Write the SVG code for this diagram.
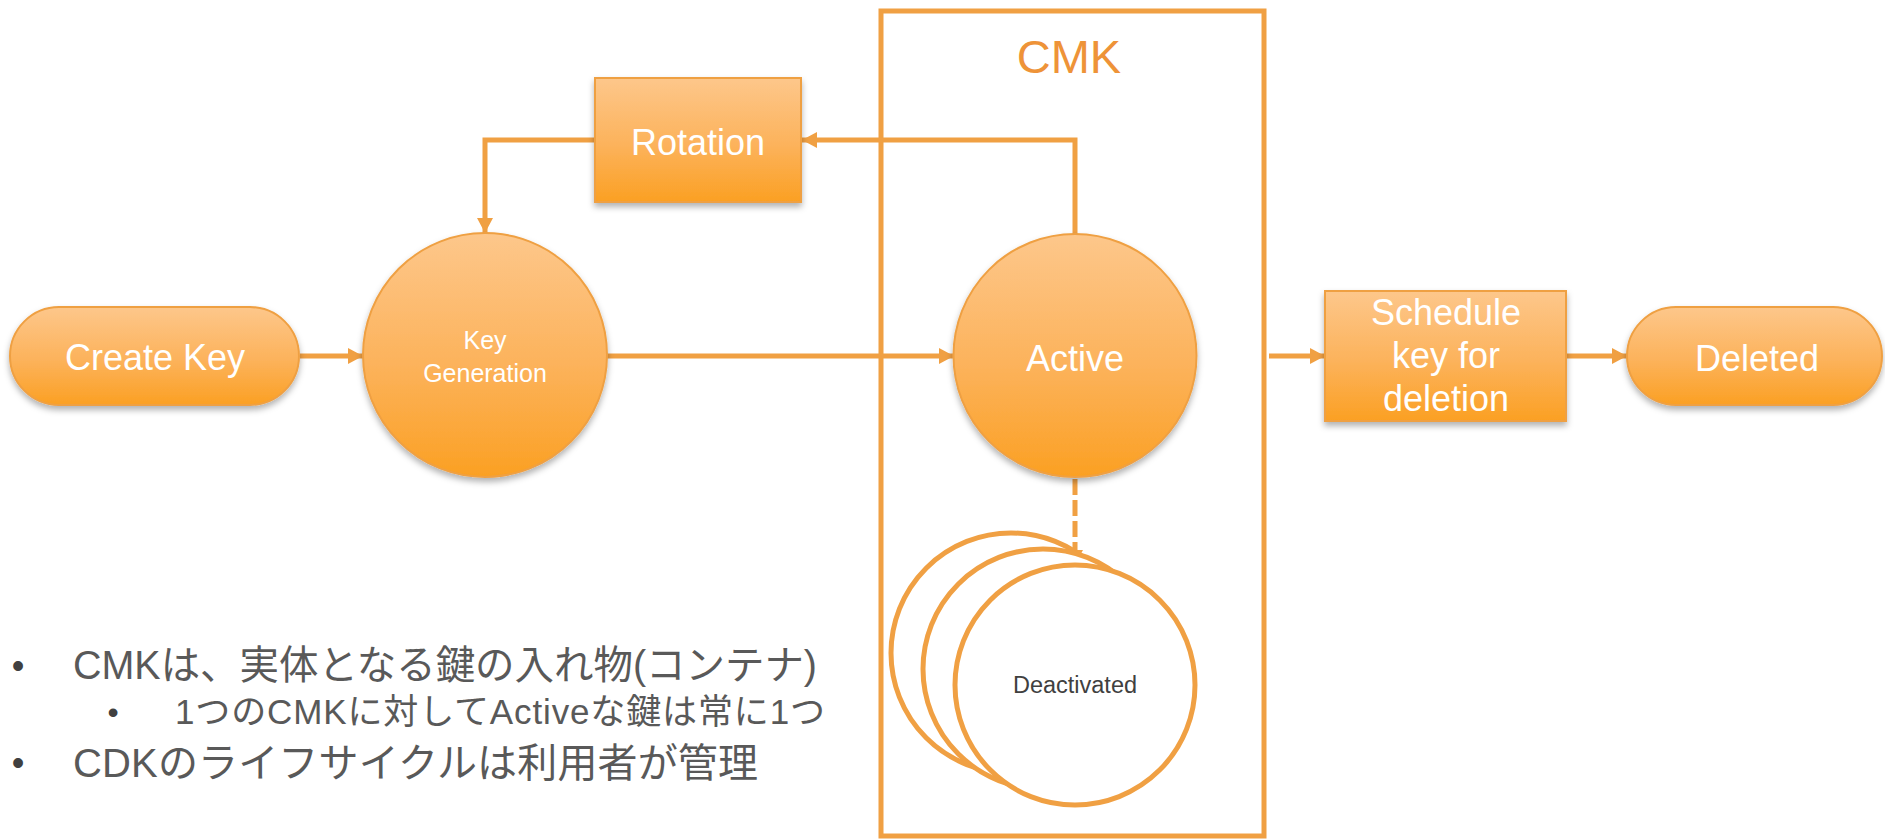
<svg xmlns="http://www.w3.org/2000/svg" width="1885" height="840" viewBox="0 0 1885 840">
  <defs>
    <linearGradient id="nodeFill" x1="0" y1="0" x2="0" y2="1">
      <stop offset="0" stop-color="#FDC78B"/>
      <stop offset="0.55" stop-color="#FCB25A"/>
      <stop offset="1" stop-color="#FBA023"/>
    </linearGradient>
    <filter id="shadow" x="-20%" y="-20%" width="140%" height="140%">
      <feDropShadow dx="0" dy="4" stdDeviation="3" flood-color="#000" flood-opacity="0.3"/>
    </filter>
    <marker id="arrow" markerUnits="userSpaceOnUse" markerWidth="16" markerHeight="18" refX="15" refY="9" orient="auto">
      <path d="M0,1 L15,9 L0,17 Z" fill="#F0A043"/>
    </marker>
  </defs>
  <style>
    .node { fill: url(#nodeFill); stroke: #EFA043; stroke-width: 2; filter: url(#shadow); }
    .label { font-family: "Liberation Sans", Arial, sans-serif; fill: #FFFFFF; text-anchor: middle; }
    .conn { fill: none; stroke: #F0A043; stroke-width: 5; }
    .ghost { fill: #FFFFFF; stroke: #F0A043; stroke-width: 5; }
    .note { font-family: "Liberation Sans", "Noto Sans CJK JP", sans-serif; fill: #595959; }
    .dot { font-family: "Liberation Sans", sans-serif; fill: #404040; text-anchor: middle; }
  </style>

  <!-- CMK container -->
  <g id="cmk">
    <rect x="881" y="11" width="383" height="825" fill="none" stroke="#F0A043" stroke-width="5"/>
    <text x="1069" y="73" font-family="'Liberation Sans', Arial, sans-serif" font-size="47" fill="#EE9338" text-anchor="middle">CMK</text>
  </g>

  <!-- Connectors -->
  <g id="connectors">
    <path class="conn" d="M300,356 H363" marker-end="url(#arrow)"/>
    <path class="conn" d="M607,356 H954" marker-end="url(#arrow)"/>
    <path class="conn" d="M1075,234 V140 H802" marker-end="url(#arrow)"/>
    <path class="conn" d="M595,140 H485 V233" marker-end="url(#arrow)"/>
    <path class="conn" d="M1269,356 H1325" marker-end="url(#arrow)"/>
    <path class="conn" d="M1566,356 H1627" marker-end="url(#arrow)"/>
    <path class="conn" d="M1075,479 V565" stroke-width="6" stroke-dasharray="16 5" marker-end="url(#arrow)"/>
  </g>

  <g id="create-key">
    <rect class="node" x="10" y="307" width="289" height="98" rx="49" ry="49"/>
    <text class="label" x="155" y="370" font-size="36">Create Key</text>
  </g>

  <g id="rotation">
    <rect class="node" x="595" y="78" width="206" height="124"/>
    <text class="label" x="698" y="155" font-size="36">Rotation</text>
  </g>

  <g id="key-generation">
    <circle class="node" cx="485" cy="355" r="122"/>
    <text class="label" x="485" y="349" font-size="25">Key</text>
    <text class="label" x="485" y="382" font-size="25">Generation</text>
  </g>

  <g id="active">
    <circle class="node" cx="1075" cy="355.5" r="121.5"/>
    <text class="label" x="1075" y="371" font-size="36">Active</text>
  </g>

  <g id="deactivated">
    <circle class="ghost" cx="1011" cy="653" r="120"/>
    <circle class="ghost" cx="1043" cy="669" r="120"/>
    <circle class="ghost" cx="1075" cy="685" r="120"/>
    <text x="1075" y="693" font-family="'Liberation Sans', Arial, sans-serif" font-size="23.5" fill="#404040" text-anchor="middle">Deactivated</text>
  </g>

  <g id="schedule-deletion">
    <rect class="node" x="1325" y="291" width="241" height="130"/>
    <text class="label" x="1446" y="325" font-size="36">Schedule</text>
    <text class="label" x="1446" y="368" font-size="36">key for</text>
    <text class="label" x="1446" y="411" font-size="36">deletion</text>
  </g>

  <g id="deleted">
    <rect class="node" x="1627" y="307" width="255" height="98" rx="49" ry="49"/>
    <text class="label" x="1757" y="371" font-size="36">Deleted</text>
  </g>

  <!-- Notes -->
  <g id="notes">
    <text class="dot" x="18" y="678" font-size="36">•</text>
    <text class="note" x="73" y="679" font-size="40" textLength="744" lengthAdjust="spacingAndGlyphs">CMKは、実体となる鍵の入れ物(コンテナ)</text>
    <text class="dot" x="113" y="723" font-size="32">•</text>
    <text class="note" x="175" y="724" font-size="35" textLength="650" lengthAdjust="spacing">1つのCMKに対してActiveな鍵は常に1つ</text>
    <text class="dot" x="18" y="775" font-size="36">•</text>
    <text class="note" x="73" y="777" font-size="40" textLength="685" lengthAdjust="spacing">CDKのライフサイクルは利用者が管理</text>
  </g>
</svg>
